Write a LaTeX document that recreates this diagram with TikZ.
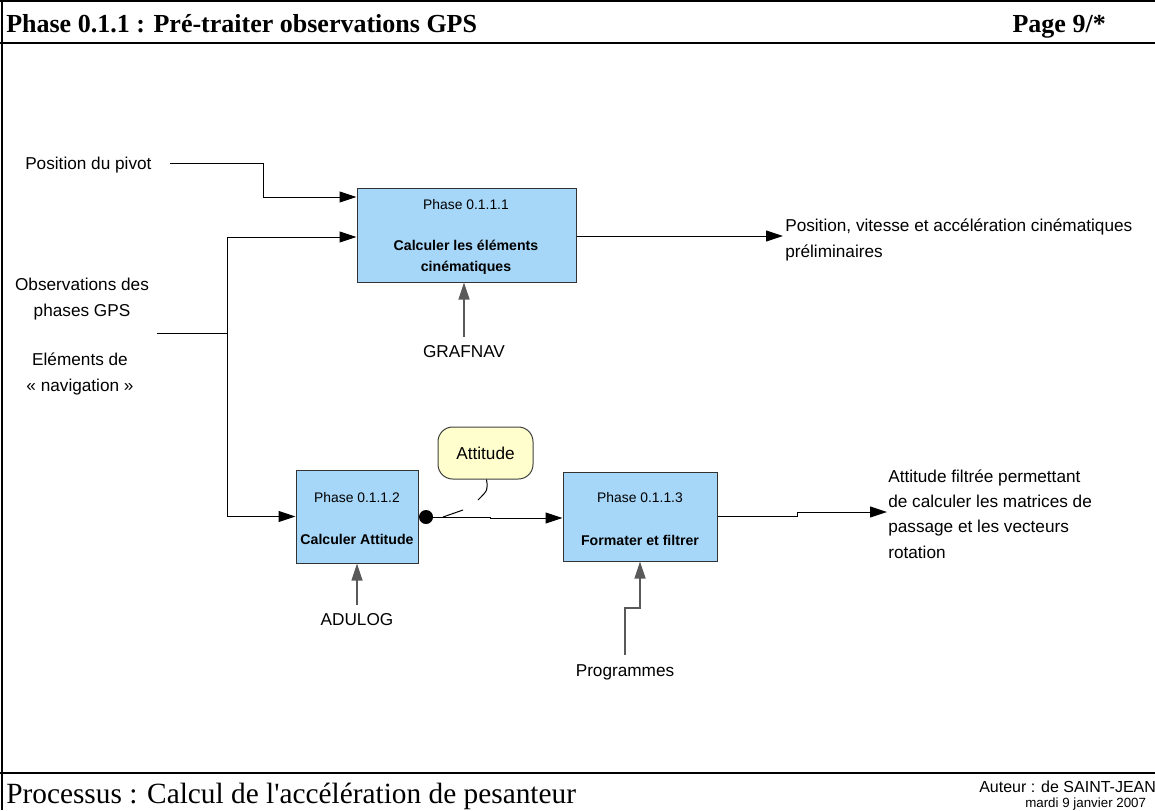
\documentclass[tikz,border=0pt]{standalone}
\usepackage{fontspec}
\setmainfont{Liberation Sans}
\newfontfamily\titlefont{Liberation Serif}
\newfontfamily\footfont{Liberation Serif}
\usetikzlibrary{arrows.meta}
\definecolor{boxblue}{HTML}{A6D6F8}
\definecolor{callyellow}{HTML}{FFFECC}
\begin{document}
\begin{tikzpicture}[x=0.75pt,y=-0.75pt,
  txt/.style={font=\fontsize{12.9}{19}\selectfont, inner sep=0},
  boxtxt/.style={font=\fontsize{10.4}{15.75}\selectfont, inner sep=0},
  boxbold/.style={font=\fontsize{10.6}{15.75}\selectfont\bfseries, inner sep=0, align=center},
  procbox/.style={draw=black!80, fill=boxblue, line width=0.75pt, inner sep=0},
  conn/.style={line width=0.75pt, draw=black},
  upconn/.style={line width=0.9pt, draw=black!65, -{Triangle[length=12.75pt,width=8.25pt]}},
  arr/.style={conn, -{Triangle[length=12.75pt,width=8.25pt]}},
  frame/.style={line width=1.6pt, draw=black}]

\useasboundingbox (0,0) rectangle (1155,810);

% frame
\draw[line width=1pt] (0,1) -- (1155,1);
\draw[line width=1pt] (2,0) -- (2,810);
\draw[frame] (0,43) -- (1155,43);
\draw[frame] (0,773) -- (1155,773);

% header / footer
\node[anchor=base west, inner sep=0, font=\titlefont\bfseries\fontsize{19.5}{22}\selectfont] (title) at (6,32) {Phase 0.1.1 : Pré-traiter observations GPS};
\node[anchor=base east, inner sep=0, font=\titlefont\bfseries\fontsize{19.5}{22}\selectfont] (page) at (1106,32) {Page 9/*};
\node[anchor=base west, inner sep=0, font=\footfont\fontsize{22}{24}\selectfont] (proc) at (6,803) {Processus : Calcul de l\textquotesingle accélération de pesanteur};
\node[anchor=base west, inner sep=0, font=\fontsize{12}{14}\selectfont] (auteur) at (979,792) {Auteur : de SAINT-JEAN};
\node[anchor=base west, inner sep=0, font=\fontsize{10}{12}\selectfont] (date) at (1025,807) {mardi 9 janvier 2007};

% process boxes
\node[procbox, minimum width=164.25pt, minimum height=70.5pt] (b1) at (466.5,235) {};
\node[boxtxt] (b1p) at (466,205) {Phase 0.1.1.1};
\node[boxbold] (b1t) at (466,257) {Calculer les éléments\\cinématiques};

\node[procbox, minimum width=91.5pt, minimum height=69.75pt] (b2) at (357,516.5) {};
\node[boxtxt] (b2p) at (357,498) {Phase 0.1.1.2};
\node[boxbold] (b2t) at (357,539) {Calculer Attitude};

\node[procbox, minimum width=115.5pt, minimum height=66.75pt] (b3) at (640,516.5) {};
\node[boxtxt] (b3p) at (640,498) {Phase 0.1.1.3};
\node[boxbold] (b3t) at (640,540) {Formater et filtrer};

% left inputs
\node[txt, anchor=base west] (pivot) at (25,169) {Position du pivot};
\node[txt, anchor=base, align=center] (obs) at (82,316) {Observations des\\phases GPS};
\node[txt, anchor=base, align=center] (nav) at (80,391) {Eléments de\\« navigation »};

\coordinate (pivotEnd) at (170,163);
\coordinate (obsEnd) at (157,333);
\coordinate (split) at (227,333);
\draw[arr] (pivotEnd) -| (263,197) -- (b1.west |- 0,197);
\draw[conn] (obsEnd) -- (split);
\draw[arr] (split) |- (b1.west |- 0,237);
\draw[arr] (split) |- (b2.west);

% outputs
\node[txt, anchor=base west, align=left] (out1) at (785,257) {Position, vitesse et accélération cinématiques\\préliminaires};
\coordinate (out1In) at (783,236);
\draw[arr] (b1.east |- 0,236) -- (out1In);

\node[txt, anchor=base west, align=left] (out3) at (888,558) {Attitude filtrée permettant\\de calculer les matrices de\\passage et les vecteurs\\rotation};
\coordinate (out3In) at (887,512);
\draw[arr] (b3.east) -- (797,516.5) -- (797,512) -- (out3In);

% mechanisms
\node[txt] (grafnav) at (464,352) {GRAFNAV};
\coordinate (grafEnd) at (464,337);
\draw[upconn] (grafEnd) -- (b1.south -| grafEnd);

\node[txt] (adulog) at (357,620) {ADULOG};
\coordinate (aduEnd) at (357,605);
\draw[upconn] (aduEnd) -- (b2.south);

\node[txt] (prog) at (625,672) {Programmes};
\coordinate (progEnd) at (625,655);
\draw[upconn] (progEnd) |- (640,608) -- (b3.south);

% attitude link with dot and callout
\node[circle, fill=black, inner sep=0, minimum size=10.5pt] (dot) at (426,517) {};
\draw[arr] (dot) -- (490,517) -- (490,518) -- (b3.west |- 0,518);

\node[draw=black!75, fill=callyellow, line width=0.75pt, rounded corners=11pt,
      minimum width=71.25pt, minimum height=39pt, txt] (att) at (485.5,453) {Attitude};
\coordinate (callA) at (478,500);
\coordinate (callB) at (463,510);
\coordinate (callC) at (443,517);
\draw[conn] ([xshift=0.75pt]att.south) .. controls (488,490) .. (callA);
\draw[conn] (callB) -- (callC);

\end{tikzpicture}
\end{document}
